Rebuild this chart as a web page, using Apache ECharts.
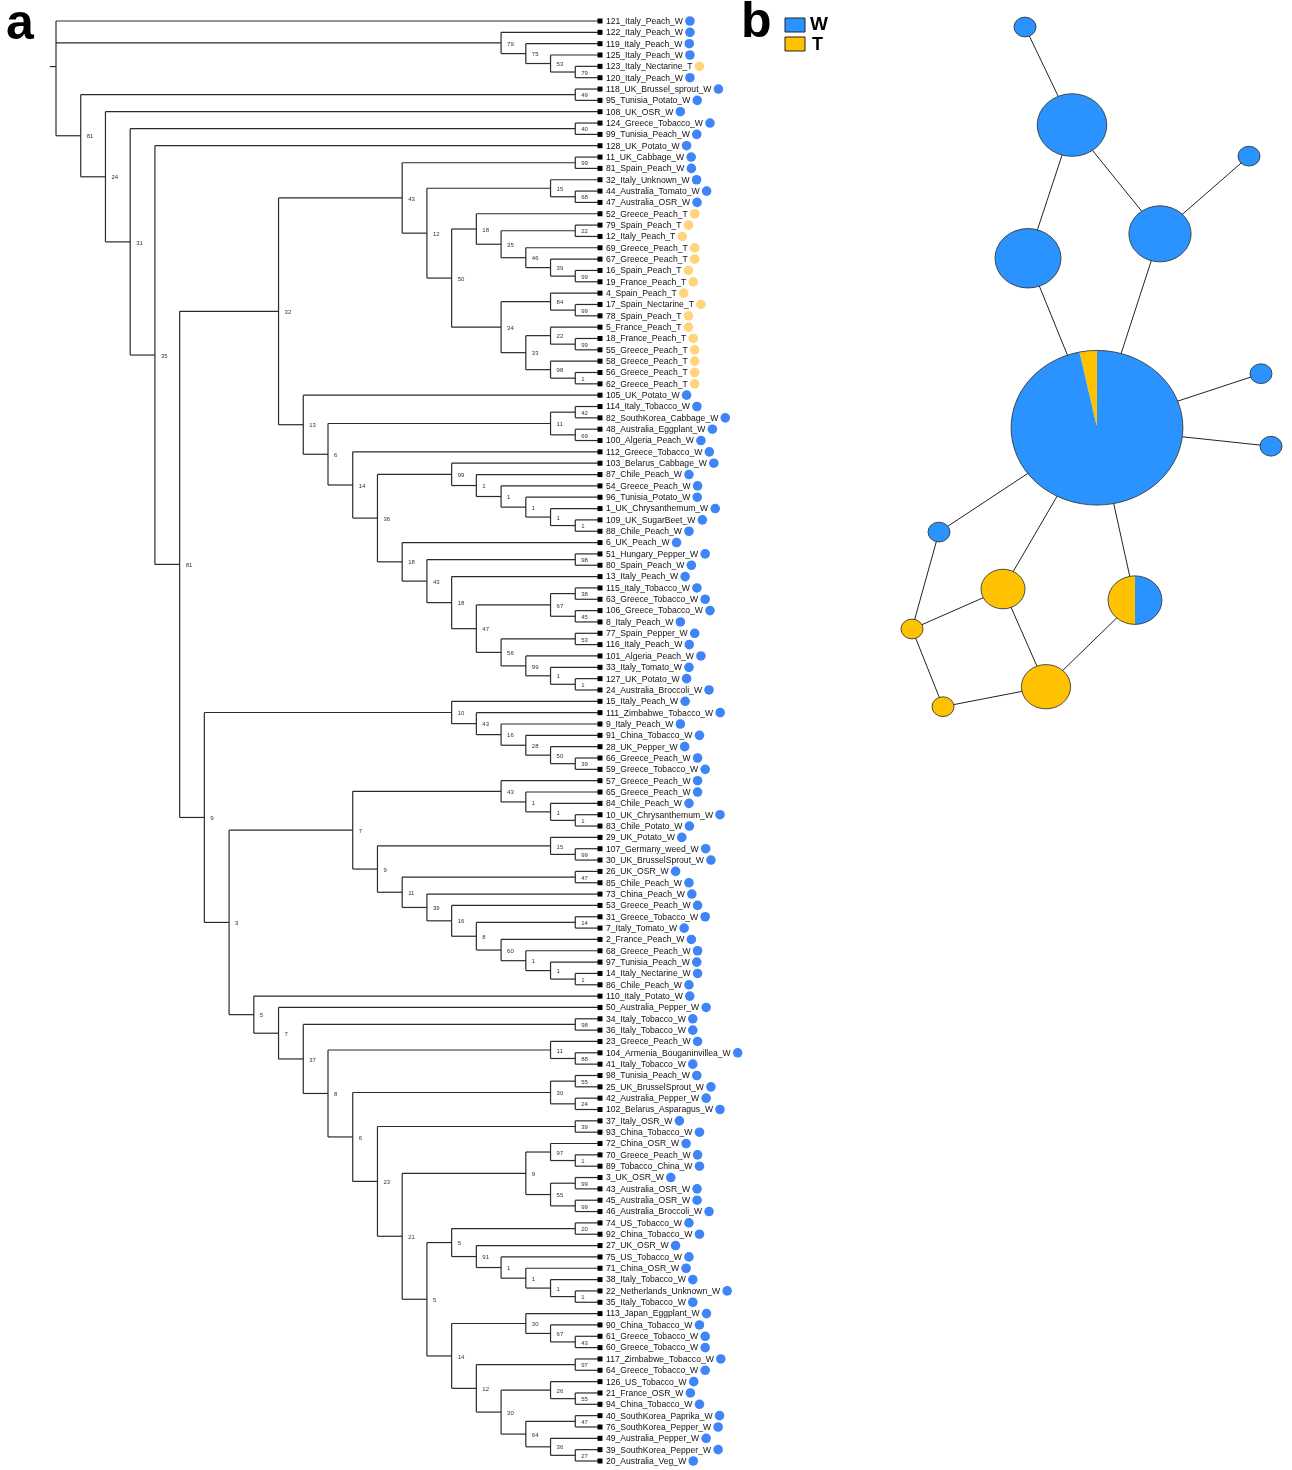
<!DOCTYPE html>
<html><head><meta charset="utf-8">
<script src="https://cdn.jsdelivr.net/npm/echarts@6/dist/echarts.min.js"></script>
<style>html,body{margin:0;padding:0;background:#fff}#c{width:1292px;height:1470px}</style>
</head><body><div id="c"></div>
<script>
// ---------------- DATA ----------------
// Panel a: cladogram topology (Newick, bootstrap support after each clade)
const cladeTop = "(121_Italy_Peach_W,(122_Italy_Peach_W,(119_Italy_Peach_W,(125_Italy_Peach_W,(123_Italy_Nectarine_T,120_Italy_Peach_W)79)53)75)79,";
const cladeA = "((118_UK_Brussel_sprout_W,95_Tunisia_Potato_W)49,(108_UK_OSR_W,((124_Greece_Tobacco_W,99_Tunisia_Peach_W)40,(128_UK_Potato_W,(";
const clade43 = "(((11_UK_Cabbage_W,81_Spain_Peach_W)99,((32_Italy_Unknown_W,(44_Australia_Tomato_W,47_Australia_OSR_W)68)15,((52_Greece_Peach_T,((79_Spain_Peach_T,12_Italy_Peach_T)22,(69_Greece_Peach_T,(67_Greece_Peach_T,(16_Spain_Peach_T,19_France_Peach_T)99)39)46)35)18,((4_Spain_Peach_T,(17_Spain_Nectarine_T,78_Spain_Peach_T)99)84,((5_France_Peach_T,(18_France_Peach_T,55_Greece_Peach_T)99)22,(58_Greece_Peach_T,(56_Greece_Peach_T,62_Greece_Peach_T)1)98)33)34)50)12)43,";
const clade13 = "(105_UK_Potato_W,(((114_Italy_Tobacco_W,82_SouthKorea_Cabbage_W)42,(48_Australia_Eggplant_W,100_Algeria_Peach_W)69)11,(112_Greece_Tobacco_W,((103_Belarus_Cabbage_W,(87_Chile_Peach_W,(54_Greece_Peach_W,(96_Tunisia_Potato_W,(1_UK_Chrysanthemum_W,(109_UK_SugarBeet_W,88_Chile_Peach_W)1)1)1)1)1)99,(6_UK_Peach_W,((51_Hungary_Pepper_W,80_Spain_Peach_W)98,(13_Italy_Peach_W,(((115_Italy_Tobacco_W,63_Greece_Tobacco_W)38,(106_Greece_Tobacco_W,8_Italy_Peach_W)45)67,((77_Spain_Pepper_W,116_Italy_Peach_W)53,(101_Algeria_Peach_W,(33_Italy_Tomato_W,(127_UK_Potato_W,24_Australia_Broccoli_W)1)1)99)56)47)18)43)18)36)14)6)13)32,";
const clade10 = "((15_Italy_Peach_W,(111_Zimbabwe_Tobacco_W,(9_Italy_Peach_W,(91_China_Tobacco_W,(28_UK_Pepper_W,(66_Greece_Peach_W,59_Greece_Tobacco_W)39)50)28)16)43)10,";
const clade7 = "(((57_Greece_Peach_W,(65_Greece_Peach_W,(84_Chile_Peach_W,(10_UK_Chrysanthemum_W,83_Chile_Potato_W)1)1)1)43,((29_UK_Potato_W,(107_Germany_weed_W,30_UK_BrusselSprout_W)99)15,((26_UK_OSR_W,85_Chile_Peach_W)47,(73_China_Peach_W,(53_Greece_Peach_W,((31_Greece_Tobacco_W,7_Italy_Tomato_W)14,(2_France_Peach_W,(68_Greece_Peach_W,(97_Tunisia_Peach_W,(14_Italy_Nectarine_W,86_Chile_Peach_W)1)1)1)60)8)16)39)11)9)7,";
const clade5 = "(110_Italy_Potato_W,(50_Australia_Pepper_W,((34_Italy_Tobacco_W,36_Italy_Tobacco_W)98,((23_Greece_Peach_W,(104_Armenia_Bouganinvillea_W,41_Italy_Tobacco_W)88)11,(((98_Tunisia_Peach_W,25_UK_BrusselSprout_W)55,(42_Australia_Pepper_W,102_Belarus_Asparagus_W)24)30,((37_Italy_OSR_W,93_China_Tobacco_W)39,";
const clade21 = "(((72_China_OSR_W,(70_Greece_Peach_W,89_Tobacco_China_W)1)97,((3_UK_OSR_W,43_Australia_OSR_W)99,(45_Australia_OSR_W,46_Australia_Broccoli_W)99)55)9,(((74_US_Tobacco_W,92_China_Tobacco_W)20,(27_UK_OSR_W,(75_US_Tobacco_W,(71_China_OSR_W,(38_Italy_Tobacco_W,(22_Netherlands_Unknown_W,35_Italy_Tobacco_W)1)1)1)1)91)5,((113_Japan_Eggplant_W,(90_China_Tobacco_W,(61_Greece_Tobacco_W,60_Greece_Tobacco_W)43)67)30,((117_Zimbabwe_Tobacco_W,64_Greece_Tobacco_W)97,((126_US_Tobacco_W,(21_France_OSR_W,94_China_Tobacco_W)55)26,((40_SouthKorea_Paprika_W,76_SouthKorea_Pepper_W)47,(49_Australia_Pepper_W,(39_SouthKorea_Pepper_W,20_Australia_Veg_W)27)36)64)30)12)14)5)21)23)6)8)37)7)5)3)9)81)35)31)24)81)";
const treeNewick = cladeTop + cladeA + clade43 + clade13 + clade10 + clade7 + clade5 + clade21;

// Panel b: haplotype network (layout units, W and T counts)
const netX = [36.25, 48, 92.25, 37, 70, 54.25, 95.25, 97.75, 14.75, 30.75, 63.75, 8, 41.5, 15.75];
const netY = [3.65, 16.9, 21.1, 34.9, 31.6, 57.8, 50.5, 60.3, 71.9, 79.6, 81.1, 85, 92.8, 95.5];
const netW = [1, 10, 1, 9, 8, 59, 1, 1, 1, 0, 3, 0, 0, 0];
const netT = [0, 0, 0, 0, 0, 2, 0, 0, 0, 4, 3, 1, 5, 1];
const netEdges = [[0,1],[1,3],[1,4],[4,2],[3,5],[4,5],[5,6],[5,7],[5,8],[5,9],[5,10],[8,11],[11,9],[11,13],[9,12],[13,12],[10,12]];
const legendItems = ['W', 'T'];

// ---------------- STYLE ----------------
const FONT = '"Liberation Sans", Arial, Helvetica, sans-serif';
const LEAF_FONT = '8.6px ' + FONT;
const BLUE_DOT = '#3F85F7', YELLOW_DOT = '#FFD47A';
const BLUE = '#2A93FF', YELLOW = '#FFC200';
const LINE = '#2b2b2b';

// ---------------- TREE LAYOUT ----------------
function parseNewick(s) {
  let i = 0;
  function node() {
    const n = { children: [], label: '' };
    if (s[i] === '(') {
      i++;
      n.children.push(node());
      while (s[i] === ',') { i++; n.children.push(node()); }
      i++;
    }
    const st = i;
    while (i < s.length && !',();'.includes(s[i])) i++;
    n.label = s.slice(st, i);
    return n;
  }
  return node();
}
const root = parseNewick(treeNewick);
const leaves = [];
function layout(n) {
  if (!n.children.length) { n.h = 0; n.y = leaves.length; leaves.push(n.label); return; }
  n.children.forEach(layout);
  n.h = 1 + Math.max(...n.children.map(c => c.h));
  n.y = n.children.reduce((a, c) => a + c.y, 0) / n.children.length;
}
layout(root);
const segs = [], supports = [];
function collect(n) {
  if (!n.children.length) return;
  const ys = n.children.map(c => c.y);
  segs.push([n.h, Math.min(...ys), n.h, Math.max(...ys)]);
  n.children.forEach(c => { segs.push([n.h, c.y, c.h, c.y]); collect(c); });
  if (n.label) supports.push([n.h, n.y, n.label]);
}
collect(root);
segs.push([root.h, root.y, root.h + 0.25, root.y]);
const leafData = leaves.map((l, i) => [0, i]);

const mctx = document.createElement('canvas').getContext('2d');
mctx.font = LEAF_FONT;

// ---------------- CHART ----------------
const chart = echarts.init(document.getElementById('c'), null, { renderer: 'canvas' });
const option = {
  animation: false,
  backgroundColor: '#fff',
  grid: [
    { left: 56, top: 21, width: 544, height: 1440 },
    { left: 880, top: 0, width: 400, height: 740 }
  ],
  xAxis: [
    { type: 'value', gridIndex: 0, min: 0, max: 22, inverse: true, show: false },
    { type: 'value', gridIndex: 1, min: 0, max: 100, show: false }
  ],
  yAxis: [
    { type: 'value', gridIndex: 0, min: 0, max: leaves.length - 1, inverse: true, show: false },
    { type: 'value', gridIndex: 1, min: 0, max: 100, inverse: true, show: false }
  ],
  graphic: [
    { type: 'text', left: 6, top: 0, style: { text: 'a', font: 'bold 50px ' + FONT, fill: '#000' } },
    { type: 'text', left: 741, top: -2, style: { text: 'b', font: 'bold 50px ' + FONT, fill: '#000' } },
    { type: 'rect', shape: { x: 785, y: 18, width: 20, height: 14 }, style: { fill: BLUE, stroke: '#222', lineWidth: 1 } },
    { type: 'rect', shape: { x: 785, y: 37, width: 20, height: 14 }, style: { fill: YELLOW, stroke: '#222', lineWidth: 1 } },
    { type: 'text', x: 810, y: 25, style: { text: legendItems[0], font: 'bold 19px ' + FONT, fill: '#000', verticalAlign: 'middle' } },
    { type: 'text', x: 812, y: 45, style: { text: legendItems[1], font: 'bold 18px ' + FONT, fill: '#000', verticalAlign: 'middle' } }
  ],
  series: [
    {
      type: 'custom', xAxisIndex: 0, yAxisIndex: 0, clip: false, silent: true,
      data: segs,
      renderItem(p, api) {
        const a = api.coord([api.value(0), api.value(1)]);
        const b = api.coord([api.value(2), api.value(3)]);
        return { type: 'line', shape: { x1: a[0], y1: a[1], x2: b[0], y2: b[1] }, style: { stroke: LINE, lineWidth: 1.2 } };
      }
    },
    {
      type: 'custom', xAxisIndex: 0, yAxisIndex: 0, clip: false, silent: true,
      data: supports,
      renderItem(p, api) {
        const a = api.coord([api.value(0), api.value(1)]);
        return { type: 'text', x: a[0] + 6, y: a[1] + 1,
          style: { text: supports[p.dataIndex][2], font: '6px ' + FONT, fill: '#333', verticalAlign: 'middle', align: 'left' } };
      }
    },
    {
      type: 'custom', xAxisIndex: 0, yAxisIndex: 0, clip: false, silent: true,
      data: leafData,
      renderItem(p, api) {
        const a = api.coord([api.value(0), api.value(1)]);
        const name = leaves[p.dataIndex];
        const isT = /_T$/.test(name);
        const w = mctx.measureText(name).width;
        const tx = a[0] + 6;
        return { type: 'group', children: [
          { type: 'rect', shape: { x: a[0] - 2.5, y: a[1] - 2.5, width: 5, height: 5 }, style: { fill: '#000' } },
          { type: 'text', x: tx, y: a[1] + 0.5, style: { text: name, font: LEAF_FONT, fill: '#111', verticalAlign: 'middle', align: 'left' } },
          { type: 'circle', shape: { cx: tx + w + 7, cy: a[1], r: 4.8 }, style: { fill: isT ? YELLOW_DOT : BLUE_DOT } }
        ] };
      }
    },
    {
      type: 'custom', xAxisIndex: 1, yAxisIndex: 1, clip: false, silent: true,
      data: netEdges.map(e => [netX[e[0]], netY[e[0]], netX[e[1]], netY[e[1]]]),
      renderItem(p, api) {
        const a = api.coord([api.value(0), api.value(1)]);
        const b = api.coord([api.value(2), api.value(3)]);
        return { type: 'line', shape: { x1: a[0], y1: a[1], x2: b[0], y2: b[1] }, style: { stroke: '#222', lineWidth: 1 } };
      }
    },
    {
      type: 'custom', xAxisIndex: 1, yAxisIndex: 1, clip: false, silent: true,
      data: netX.map((x, i) => [x, netY[i], netW[i], netT[i]]),
      renderItem(p, api) {
        const c = api.coord([api.value(0), api.value(1)]);
        const w = api.value(2), t = api.value(3), n = w + t;
        const rx = 11 * Math.sqrt(n), ratio = 0.9;
        const top = -Math.PI / 2, tAng = 2 * Math.PI * t / n;
        const kids = [];
        if (t > 0) kids.push({ type: 'sector', shape: { cx: 0, cy: 0, r: rx, r0: 0, startAngle: top - tAng, endAngle: top, clockwise: true }, style: { fill: YELLOW } });
        if (w > 0) kids.push({ type: 'sector', shape: { cx: 0, cy: 0, r: rx, r0: 0, startAngle: top, endAngle: top + 2 * Math.PI - tAng, clockwise: true }, style: { fill: BLUE } });
        kids.push({ type: 'circle', shape: { cx: 0, cy: 0, r: rx }, style: { fill: 'none', stroke: '#333', lineWidth: 0.9, strokeNoScale: true } });
        return { type: 'group', x: c[0], y: c[1], scaleX: 1, scaleY: ratio, children: kids };
      }
    }
  ]
};
chart.setOption(option);
</script></body></html>
